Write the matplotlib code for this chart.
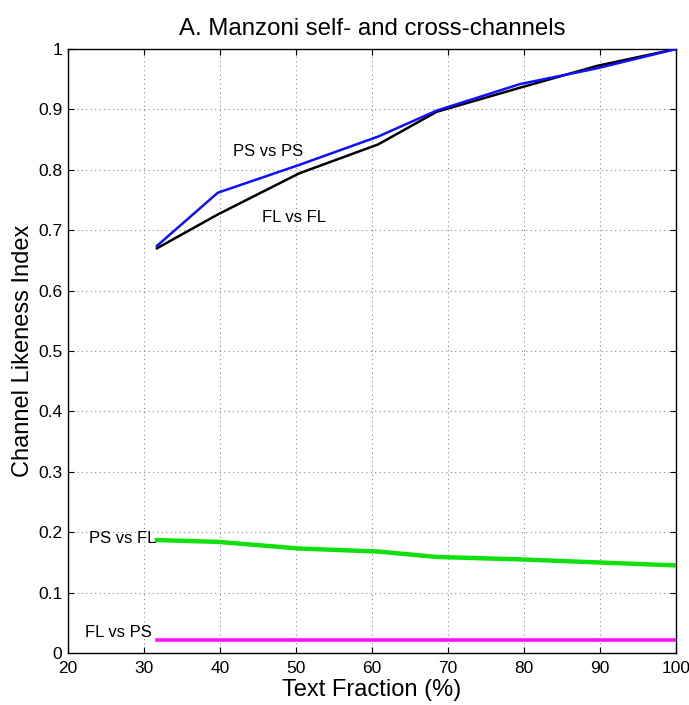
import matplotlib
matplotlib.use("Agg")
import matplotlib.pyplot as plt

plt.rcParams['font.family'] = ['Liberation Sans', 'DejaVu Sans']

# Text fraction (%) at which each channel-likeness index was computed
text_fraction = [31.7, 39.7, 50.4, 60.8, 68.5, 79.5, 89.6, 100.0]

ps_vs_ps = [0.674, 0.762, 0.808, 0.855, 0.898, 0.942, 0.968, 1.000]
fl_vs_fl = [0.670, 0.726, 0.794, 0.842, 0.896, 0.936, 0.972, 1.000]
ps_vs_fl = [0.187, 0.184, 0.173, 0.168, 0.159, 0.155, 0.150, 0.145]
fl_vs_ps = [0.021, 0.021, 0.021, 0.021, 0.021, 0.021, 0.021, 0.021]

x_ticks = [20, 30, 40, 50, 60, 70, 80, 90, 100]
y_ticks = [0, 0.1, 0.2, 0.3, 0.4, 0.5, 0.6, 0.7, 0.8, 0.9, 1.0]
y_tick_labels = ['0', '0.1', '0.2', '0.3', '0.4', '0.5', '0.6', '0.7', '0.8', '0.9', '1']

fig = plt.figure(figsize=(6.89, 7.05), dpi=100)
ax = fig.add_axes([68 / 689, 52 / 705, 608 / 689, 604 / 705])

ax.plot(text_fraction, fl_vs_fl, color='black', lw=1.8, zorder=3)
ax.plot(text_fraction, ps_vs_ps, color='#1010ff', lw=1.8, zorder=4)
ax.plot(text_fraction, ps_vs_fl, color='#10e010', lw=3.2, zorder=3)
ax.plot(text_fraction, fl_vs_ps, color='#ff10ff', lw=2.6, zorder=3)

lbl = dict(fontsize=12, va='center')
ax.text(46.3, 0.831, 'PS vs PS', ha='center', **lbl)
ax.text(49.8, 0.721, 'FL vs FL', ha='center', **lbl)
ax.text(31.6, 0.189, 'PS vs FL', ha='right', **lbl)
ax.text(31.0, 0.034, 'FL vs PS', ha='right', **lbl)

ax.set_xlim(20, 100)
ax.set_ylim(0, 1)
ax.set_xticks(x_ticks)
ax.set_yticks(y_ticks)
ax.set_yticklabels(y_tick_labels)
ax.tick_params(direction='in', top=True, right=True, labelsize=12.5, length=4)
ax.tick_params(axis='x', pad=6)
ax.tick_params(axis='y', pad=4)
ax.grid(True, linestyle=(0, (1, 3)), color='#888888', lw=0.8)
for s in ax.spines.values():
    s.set_linewidth(1.0)

ax.set_title('A. Manzoni self- and cross-channels', fontsize=17.3, pad=10)
ax.set_xlabel('Text Fraction (%)', fontsize=17, labelpad=2)
ax.set_ylabel('Channel Likeness Index', fontsize=17, labelpad=3)

fig.savefig('out.png', dpi=100)
